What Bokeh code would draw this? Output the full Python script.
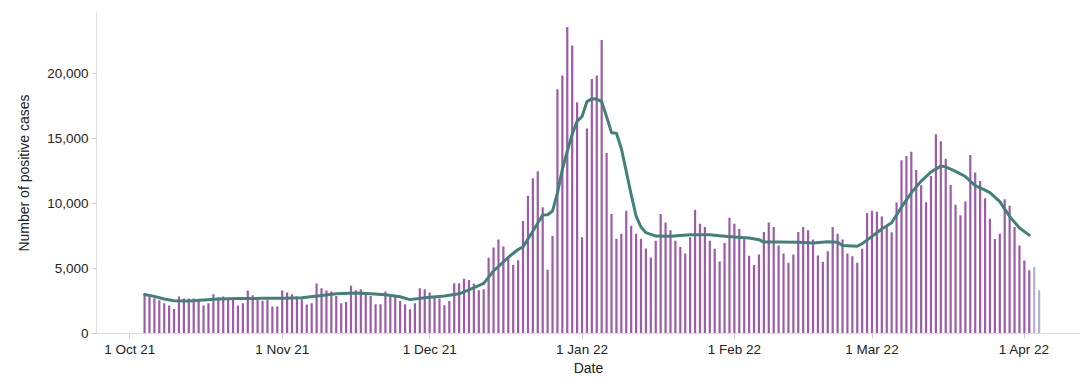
from datetime import datetime
import pandas as pd
from bokeh.plotting import figure
from bokeh.models import (ColumnDataSource, Range1d, FixedTicker,
                          NumeralTickFormatter, CustomJSTickFormatter)
from bokeh.embed import file_html
from bokeh.resources import INLINE

# ---------------- data ----------------
first_day = "2021-10-04"
daily_cases = [
    2950, 2820, 2700, 2550, 2320, 2150, 1890, 2850, 2680, 2680,
    2680, 2500, 2150, 2320, 3020, 2770, 2850, 2680, 2680, 2150,
    2320, 3300, 2930, 2680, 2520, 2580, 2070, 2070, 3300, 3140,
    3020, 2840, 2620, 2230, 2330, 3830, 3470, 3300, 3220, 2880,
    2330, 2420, 3660, 3320, 3390, 2960, 2870, 2250, 2250, 3215,
    2950, 2950, 2500, 2250, 1870, 2330, 3470, 3400, 3140, 2890,
    2680, 2170, 2500, 3850, 3850, 4210, 4110, 3830, 3320, 3400,
    5810, 6600, 7210, 6680, 5890, 5250, 5630, 8630, 10570, 11910,
    12450, 9700, 4900, 7490, 18750, 19800, 23540, 22110, 17760, 7390,
    15730, 19540, 19800, 22540, 13850, 9170, 7280, 7660, 9420, 8270,
    7660, 7280, 6520, 5830, 7130, 9170, 8530, 7920, 7130, 6650,
    6140, 7390, 9500, 8430, 8180, 7130, 6500, 5530, 6950, 8880,
    8430, 8020, 7230, 5960, 5250, 6060, 7800, 8530, 8180, 6750,
    6140, 5430, 6070, 7790, 8180, 7920, 7210, 5990, 5500, 6310,
    8180, 7650, 7210, 6140, 5930, 5430, 6500, 9250, 9420, 9350,
    8980, 8180, 7770, 10060, 13310, 13620, 13950, 12550, 11380, 10080,
    12090, 15300, 14760, 13410, 11400, 9880, 9070, 10140, 13700, 12370,
    11710, 10390, 8810, 7260, 7670, 10310, 9800, 8180, 6750, 5610,
    4850, 5100, 3320,
]
incomplete_days = 2  # last days with incomplete data

avg_dates = [
    "2021-10-04", "2021-10-06", "2021-10-08", "2021-10-10", "2021-10-13",
    "2021-10-16", "2021-10-19", "2021-10-23", "2021-10-28", "2021-11-01",
    "2021-11-05", "2021-11-09", "2021-11-12", "2021-11-16", "2021-11-19",
    "2021-11-22", "2021-11-25", "2021-11-27", "2021-11-30", "2021-12-04",
    "2021-12-07", "2021-12-09", "2021-12-12", "2021-12-14", "2021-12-17",
    "2021-12-19", "2021-12-20", "2021-12-22", "2021-12-24", "2021-12-25",
    "2021-12-26", "2021-12-27", "2021-12-28", "2021-12-29", "2021-12-30",
    "2021-12-31", "2022-01-01", "2022-01-02", "2022-01-03", "2022-01-04",
    "2022-01-05", "2022-01-06", "2022-01-07", "2022-01-08", "2022-01-09",
    "2022-01-10", "2022-01-11", "2022-01-12", "2022-01-13", "2022-01-14",
    "2022-01-16", "2022-01-19", "2022-01-23", "2022-01-27", "2022-01-29",
    "2022-02-01", "2022-02-04", "2022-02-06", "2022-02-07", "2022-02-10",
    "2022-02-14", "2022-02-17", "2022-02-20", "2022-02-22", "2022-02-23",
    "2022-02-26", "2022-02-27", "2022-03-01", "2022-03-03", "2022-03-05",
    "2022-03-07", "2022-03-09", "2022-03-11", "2022-03-13", "2022-03-15",
    "2022-03-16", "2022-03-18", "2022-03-20", "2022-03-22", "2022-03-24",
    "2022-03-25", "2022-03-27", "2022-03-29", "2022-03-31", "2022-04-02",
]
avg_values = [
    3000, 2850, 2650, 2520, 2500,
    2580, 2650, 2680, 2700, 2700,
    2740, 2920, 3060, 3100, 3060,
    2970, 2820, 2600, 2740, 2880,
    3050, 3350, 3850, 4800, 5850,
    6450, 6650, 7850, 9100, 9120,
    9400, 10800, 12600, 14000, 15300,
    16300, 16650, 17800, 18030, 18000,
    17800, 16650, 15420, 15380, 14200,
    12450, 10670, 9010, 8170, 7740,
    7480, 7460, 7580, 7590, 7500,
    7400, 7330, 7200, 7020, 7030,
    7010, 6950, 7050, 7000, 6750,
    6700, 6900, 7460, 8020, 8500,
    9700, 10800, 11700, 12400, 12850,
    12800, 12450, 12050, 11350, 11000,
    10820, 10130, 8990, 8100, 7550,
]

y_ticks = [0, 5000, 10000, 15000, 20000]
x_tick_dates = ["2021-10-01", "2021-11-01", "2021-12-01", "2022-01-01",
                "2022-02-01", "2022-03-01", "2022-04-01"]
x_tick_labels = ["1 Oct 21", "1 Nov 21", "1 Dec 21", "1 Jan 22",
                 "1 Feb 22", "1 Mar 22", "1 Apr 22"]

# ---------------- build ----------------
dates = pd.date_range(first_day, periods=len(daily_cases), freq="D")
n_full = len(daily_cases) - incomplete_days
src_full = ColumnDataSource(dict(date=dates[:n_full], cases=daily_cases[:n_full]))
src_part = ColumnDataSource(dict(date=dates[n_full:], cases=daily_cases[n_full:]))
src_avg = ColumnDataSource(dict(date=pd.to_datetime(avg_dates), value=avg_values))

FONT = "Liberation Sans"
DAY_MS = 86400000

p = figure(width=1080, height=378, x_axis_type="datetime",
           output_backend="svg", toolbar_location=None,
           min_border_left=96, min_border_right=0,
           min_border_top=12, min_border_bottom=44,
           x_range=Range1d(datetime(2021, 9, 24, 5, 17), datetime(2022, 4, 12, 10, 5)),
           y_range=Range1d(0, 24645))

p.vbar(x="date", top="cases", width=0.45 * DAY_MS, source=src_full,
       fill_color="#9d5ca7", line_color=None)
p.vbar(x="date", top="cases", width=0.45 * DAY_MS, source=src_part,
       fill_color="#b5b2c9", line_color=None)
p.line(x="date", y="value", source=src_avg, line_width=3,
       line_color="#42807a", line_join="round", line_cap="round")

tick_ms = [int(pd.Timestamp(d).value // 10**6) for d in x_tick_dates]
p.xaxis.ticker = FixedTicker(ticks=tick_ms)
p.xaxis.formatter = CustomJSTickFormatter(
    args=dict(tick_vals=tick_ms, tick_names=x_tick_labels),
    code="const i = tick_vals.indexOf(tick); return i >= 0 ? tick_names[i] : '';")
p.yaxis.ticker = FixedTicker(ticks=y_ticks)
p.yaxis.formatter = NumeralTickFormatter(format="0,0")

p.xaxis.axis_label = "Date"
p.yaxis.axis_label = "Number of positive cases"

for ax in (p.xaxis, p.yaxis):
    ax.axis_line_color = "#dddddd"
    ax.major_tick_line_color = "#cccccc"
    ax.minor_tick_line_color = None
    ax.major_tick_in = 0
    ax.major_label_text_font = FONT
    ax.major_label_text_font_size = "13.5px"
    ax.major_label_text_color = "#222222"
    ax.axis_label_text_font = FONT
    ax.axis_label_text_font_size = "14px"
    ax.axis_label_text_font_style = "normal"
    ax.axis_label_text_color = "#222222"

p.xaxis.major_tick_out = 5
p.xaxis.major_label_standoff = 3
p.xaxis.axis_label_standoff = 0
p.yaxis.major_tick_out = 4
p.yaxis.major_label_standoff = 4
p.yaxis.axis_label_standoff = 12

p.grid.visible = False
p.outline_line_color = None
p.background_fill_color = "white"
p.border_fill_color = "white"

open("out.html", "w").write(file_html(p, INLINE))
